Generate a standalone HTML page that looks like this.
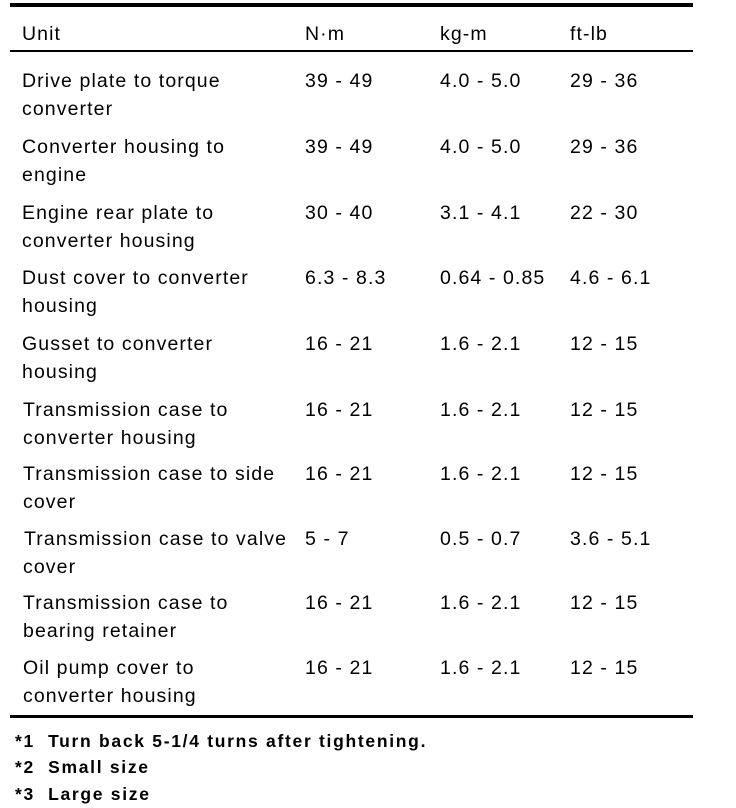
<!DOCTYPE html>
<html><head><style>
body{margin:0;width:736px;height:808px;background:#fff;position:relative;font-family:"Liberation Sans",sans-serif;font-size:19.5px;letter-spacing:1.1px;color:#000;overflow:hidden}
.t{position:absolute;white-space:nowrap;line-height:20px}
.l{position:absolute;left:10px;width:683px;background:#000}
.f{font-size:17.5px;font-weight:bold;letter-spacing:1.7px}
</style></head><body>
<div class="l" style="top:3px;height:4px"></div>
<div class="l" style="top:50px;height:2px"></div>
<div class="l" style="top:715px;height:3px"></div>
<div class="t" style="left:22px;top:24px">Unit</div>
<div class="t" style="left:305px;top:24px">N·m</div>
<div class="t" style="left:440px;top:24px">kg-m</div>
<div class="t" style="left:570px;top:24px">ft-lb</div>

<div class="t" style="left:22px;top:71px">Drive plate to torque</div><div class="t" style="left:22px;top:99px">converter</div>
<div class="t" style="left:305px;top:71px">39 - 49</div><div class="t" style="left:440px;top:71px">4.0 - 5.0</div><div class="t" style="left:570px;top:71px">29 - 36</div>

<div class="t" style="left:22px;top:137px">Converter housing to</div><div class="t" style="left:22px;top:165px">engine</div>
<div class="t" style="left:305px;top:137px">39 - 49</div><div class="t" style="left:440px;top:137px">4.0 - 5.0</div><div class="t" style="left:570px;top:137px">29 - 36</div>

<div class="t" style="left:22px;top:203px">Engine rear plate to</div><div class="t" style="left:22px;top:231px">converter housing</div>
<div class="t" style="left:305px;top:203px">30 - 40</div><div class="t" style="left:440px;top:203px">3.1 - 4.1</div><div class="t" style="left:570px;top:203px">22 - 30</div>

<div class="t" style="left:22px;top:268px">Dust cover to converter</div><div class="t" style="left:22px;top:296px">housing</div>
<div class="t" style="left:305px;top:268px">6.3 - 8.3</div><div class="t" style="left:440px;top:268px">0.64 - 0.85</div><div class="t" style="left:570px;top:268px">4.6 - 6.1</div>

<div class="t" style="left:22px;top:334px">Gusset to converter</div><div class="t" style="left:22px;top:362px">housing</div>
<div class="t" style="left:305px;top:334px">16 - 21</div><div class="t" style="left:440px;top:334px">1.6 - 2.1</div><div class="t" style="left:570px;top:334px">12 - 15</div>

<div class="t" style="left:23px;top:400px">Transmission case to</div><div class="t" style="left:23px;top:428px">converter housing</div>
<div class="t" style="left:305px;top:400px">16 - 21</div><div class="t" style="left:440px;top:400px">1.6 - 2.1</div><div class="t" style="left:570px;top:400px">12 - 15</div>

<div class="t" style="left:23px;top:464px">Transmission case to side</div><div class="t" style="left:23px;top:492px">cover</div>
<div class="t" style="left:305px;top:464px">16 - 21</div><div class="t" style="left:440px;top:464px">1.6 - 2.1</div><div class="t" style="left:570px;top:464px">12 - 15</div>

<div class="t" style="left:24px;top:529px">Transmission case to valve</div><div class="t" style="left:23px;top:557px">cover</div>
<div class="t" style="left:305px;top:529px">5 - 7</div><div class="t" style="left:440px;top:529px">0.5 - 0.7</div><div class="t" style="left:570px;top:529px">3.6 - 5.1</div>

<div class="t" style="left:23px;top:593px">Transmission case to</div><div class="t" style="left:23px;top:621px">bearing retainer</div>
<div class="t" style="left:305px;top:593px">16 - 21</div><div class="t" style="left:440px;top:593px">1.6 - 2.1</div><div class="t" style="left:570px;top:593px">12 - 15</div>

<div class="t" style="left:23px;top:658px">Oil pump cover to</div><div class="t" style="left:23px;top:686px">converter housing</div>
<div class="t" style="left:305px;top:658px">16 - 21</div><div class="t" style="left:440px;top:658px">1.6 - 2.1</div><div class="t" style="left:570px;top:658px">12 - 15</div>

<div class="t f" style="left:15px;top:731px">*1&nbsp;&nbsp;Turn back 5-1/4 turns after tightening.</div>
<div class="t f" style="left:15px;top:757px">*2&nbsp;&nbsp;Small size</div>
<div class="t f" style="left:15px;top:784px">*3&nbsp;&nbsp;Large size</div>
</body></html>
